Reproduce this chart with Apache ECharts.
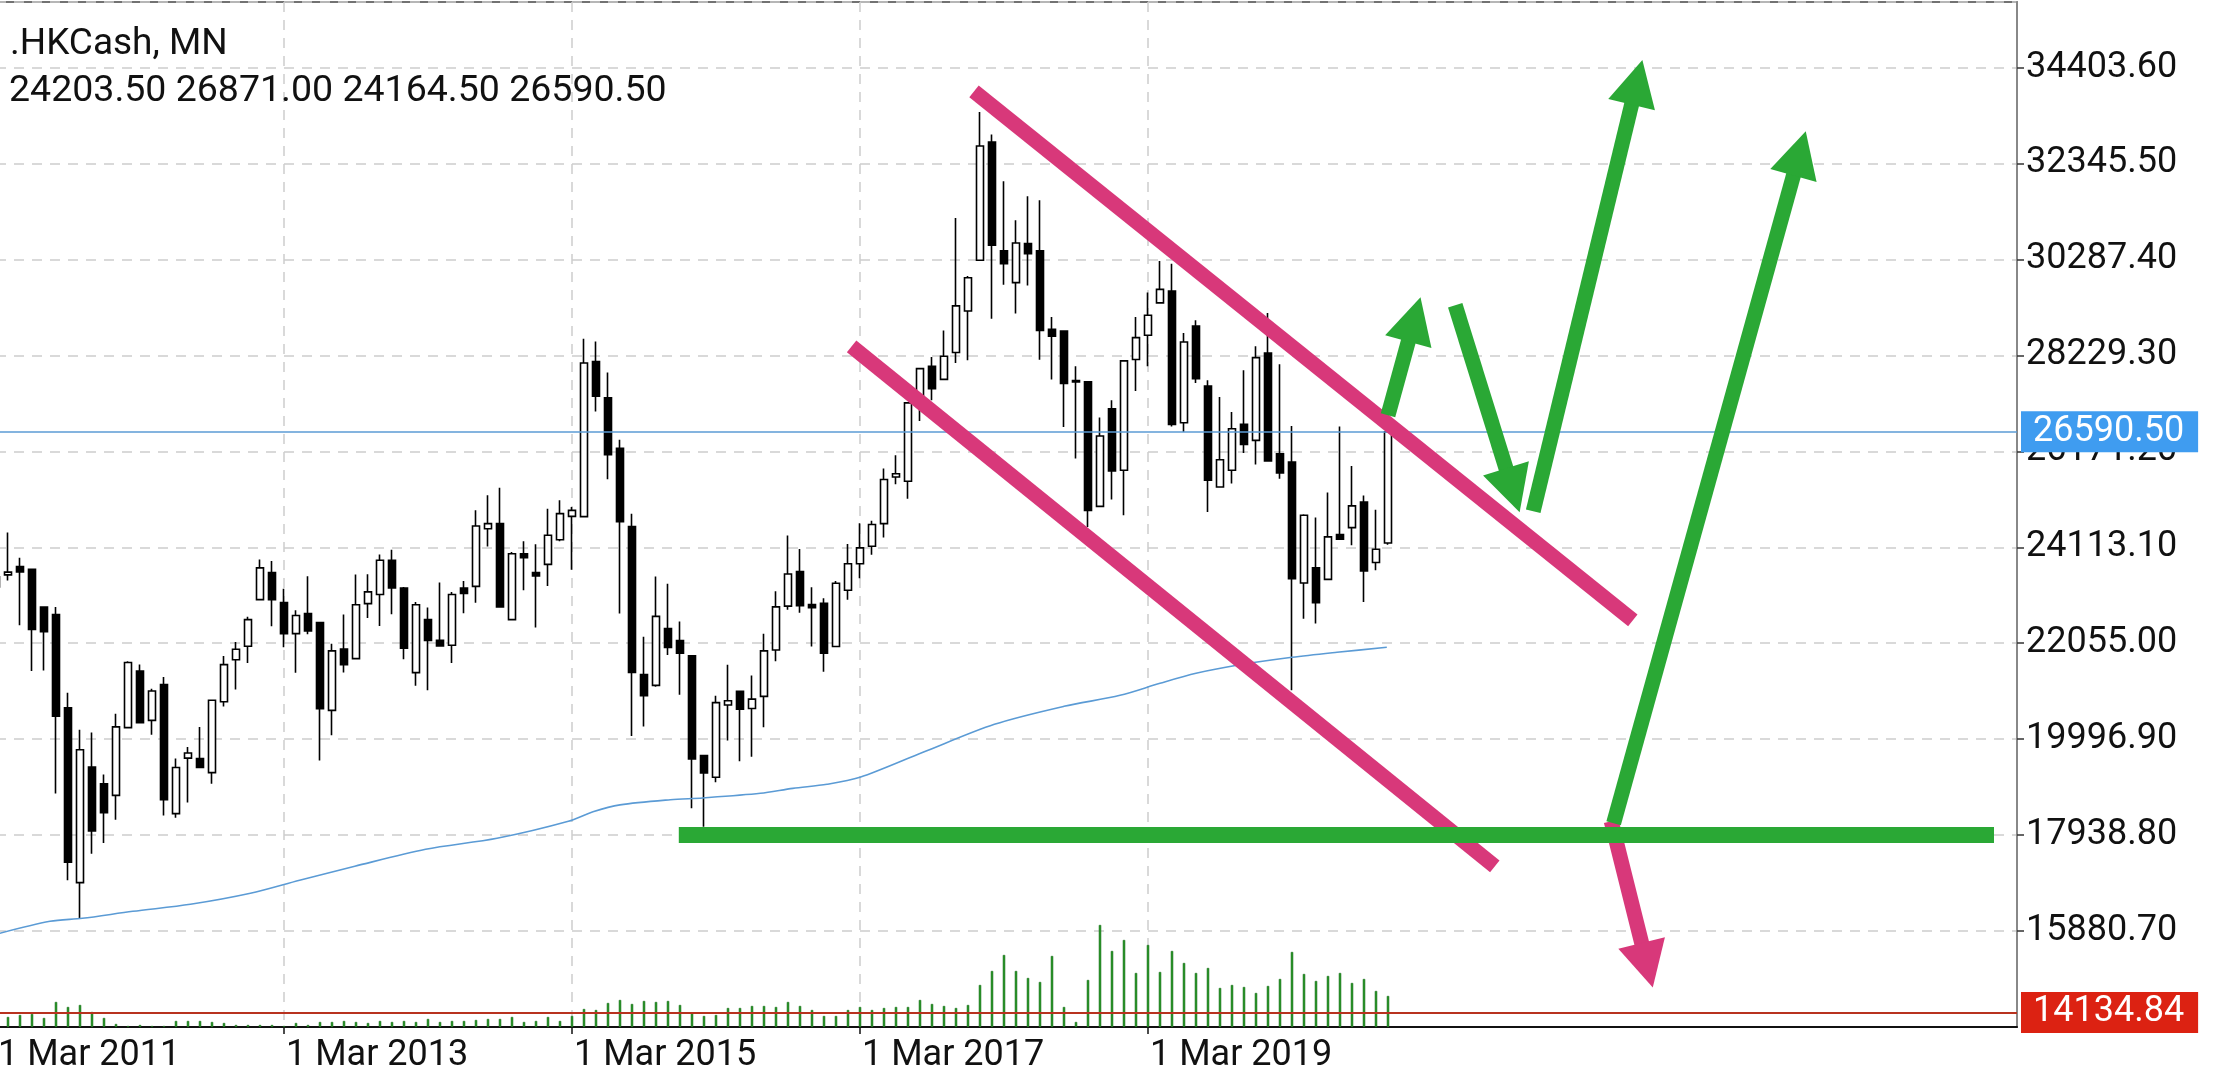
<!DOCTYPE html>
<html>
<head>
<meta charset="utf-8">
<script src="https://cdn.jsdelivr.net/npm/echarts@6/dist/echarts.min.js"></script>
<style>
html,body{margin:0;padding:0;background:#ffffff;}
#c{width:2226px;height:1080px;}
</style>
</head>
<body>
<div id="c"></div>
<script>
// ---------- DATA (monthly bars, Mar 2011 .. Nov 2020) ----------
const symbolTitle = '.HKCash, MN';
const firstMonthOffset = 2; // months since Jan 2011 of first bar (Mar 2011)
const monthNames = ['Jan','Feb','Mar','Apr','May','Jun','Jul','Aug','Sep','Oct','Nov','Dec'];

const openP = [23260,23520,23700,23640,22830,22670,20670,16920,19400,19040,18790,20245,21460,20400,21170,18400,19590,19580,19280,20800,21700,21990,22990,23570,22925,22260,22690,22500,20615,21930,21725,22905,23100,23835,23240,21425,22560,22115,22010,23240,23275,24510,24620,22560,23975,23570,23745,24275,24775,24770,28095,27320,26235,24555,21380,21150,22370,22110,21785,19645,19180,20730,21025,20655,20915,21910,22850,23590,22885,22910,21985,23190,23760,24135,24620,25620,25530,27230,27995,27715,28290,29180,30270,32805,30470,29790,30625,30470,28790,28750,27690,27660,24990,27085,25765,28140,28660,29355,29610,26785,28860,27570,25405,25765,26750,26405,28280,26120,25940,23345,23675,23425,24385,24535,25085,23785,24203.5];
const highP = [23700,24430,23890,23660,22840,22830,20990,20200,20140,19240,20540,21670,21600,21080,21330,19580,19830,20260,20840,21780,22080,22620,23850,23820,23225,22760,23490,22500,22045,22670,23530,23535,23960,24060,23260,22940,22820,23355,23155,23390,24905,25230,25390,24010,24240,24175,24940,25120,24975,28585,28525,27860,26420,24830,22195,23485,23330,22520,21790,19660,20930,21595,21030,21360,22260,23170,24365,24075,23255,23020,23390,24185,24630,24680,25800,26085,27210,27945,28195,28765,31175,29930,33450,32965,31965,31125,31640,31555,29050,28755,27995,27660,26895,27265,28110,29050,29575,30255,30195,28710,28980,27695,27335,27015,27910,28425,29140,28040,26715,24820,24750,25285,26705,25855,25225,24920,26871];
const lowP = [22700,23400,22440,21460,21470,18830,16970,16150,17540,17770,18270,20240,20340,20090,18360,18310,18640,19380,19040,20700,21060,21630,22980,22420,21970,21420,22245,19540,20080,21425,21720,22595,22425,22675,21710,21140,21045,21990,21630,22700,22925,24130,22830,22545,23190,22390,23280,24240,23630,24770,27025,25570,22690,20065,20270,21120,21800,20950,18515,18120,19070,19970,19525,19620,20250,21670,22775,22710,21985,21445,21980,22985,23450,23950,24320,25465,25155,26820,27265,27695,28066,28125,30260,29015,29745,29125,29730,28135,27710,26695,26015,24550,24990,25140,24800,27465,27995,29340,26705,26585,27635,24870,25400,25480,26135,25890,25960,25585,21045,22580,22475,23420,24280,24155,22940,23620,24164.5];
const closeP = [23480,23580,23585,22350,22300,20490,17360,19770,18030,18420,20260,21640,20350,21030,18700,19390,19700,19390,20830,21595,21925,22560,23670,22990,22260,22650,22320,20650,21890,21595,22880,23155,23835,23240,21950,22880,22115,21995,23100,23120,24570,24620,22830,23975,23890,23495,24370,24835,24905,28065,27355,26100,24660,21430,20930,22630,21965,21840,19570,19270,20780,20820,20640,20855,21890,22835,23540,22860,22815,21840,23340,23760,24100,24600,25565,25690,27210,27945,27515,28210,29290,29895,32720,30590,30195,30640,30410,28765,28640,27625,27660,24905,26500,25750,28110,28610,29090,29645,26745,28515,27730,25550,25990,26655,26320,28180,25965,25705,23440,24800,22925,24335,24285,25000,23605,24070,26590.5];
// tick volume (indicator units), one per bar
const volume = [10,10,12,13,9,25,20,22,15,9,3,1,2,1,1,6,6,6,5,4,2,2,2,2,1,4,2,5,5,6,5,4,6,5,6,5,8,5,6,6,7,8,8,10,5,6,10,6,11,18,17,24,27,23,26,25,26,22,14,11,12,19,19,21,21,20,25,21,17,11,11,17,20,17,19,20,20,27,23,21,19,22,42,56,72,56,49,45,71,20,5,47,102,76,87,54,82,55,76,64,54,59,39,42,40,34,41,48,75,53,46,51,54,44,48,36,31];
// moving average read at points: [monthsSinceJan2011, value]
const maPoints = [[2,15810],[6.5,16090],[9.2,16154],[13.4,16304],[18.2,16454],[23.2,16690],[27.3,16969],[31.9,17270],[37.8,17634],[43.75,17870],[49.7,18235],[51.75,18440],[54,18588],[58.2,18698],[60.9,18736],[65.7,18835],[68.4,18942],[71.25,19028],[74,19178],[79.25,19715],[85.2,20315],[91,20701],[95.67,20937],[99,21195],[102,21409],[105.4,21581],[110,21752],[113.75,21860],[117.9,21967]];
// axis labels
const xTickLabels = ['1 Mar 2011','1 Mar 2013','1 Mar 2015','1 Mar 2017','1 Mar 2019'];
const yTickStart = 13822.6, yTickStep = 2058.1;
const redLevel = 14134.84;
// hand-drawn annotations [monthsSinceJan2011, price]
const pinkLines = [[[83.5,33893],[138.4,22546]], [[73.3,28423],[126.9,17269]]];
const pinkArrows = [[[136.6,18235],[139.6,15146]]];
const greenLines = [[[58.9,17938.8],[168.5,17938.8]]];
const greenArrows = [[[118,26944],[120.2,29002]], [[123.6,29303],[128.4,25335]], [[130.1,24884],[138.75,34086]], [[136.8,18192],[152.3,32563]]];

// ---------- BUILD ----------
const months = openP.map((_, i) => firstMonthOffset + i);
const candles = months.map((m, i) => [m, openP[i], closeP[i], lowP[i], highP[i]]);
const volData = months.map((m, i) => [m, volume[i]]);
const labelMonth = s => { const p = s.split(' '); return (parseInt(p[2]) - 2011) * 12 + monthNames.indexOf(p[1]); };
const tickMonths = xTickLabels.map(labelMonth);
const last = openP.length - 1;
const fmt = v => v.toFixed(2);

const PINK = '#d8387a', GREEN = '#2aa835';
function lineMark(segs, arrow) {
  return segs.map(s => [
    {coord: s[0], symbol: 'none'},
    {coord: s[1], symbol: arrow ? 'triangle' : 'none', symbolSize: [48, 46]}
  ]);
}
function annot(name, segs, color, width, arrow) {
  return {
    name, type: 'line', data: [], z: 6, silent: true, animation: false,
    markLine: {
      silent: true, animation: false, symbol: ['none', arrow ? 'triangle' : 'none'],
      symbolSize: [48, 46],
      label: {show: false},
      lineStyle: {color, width, type: 'solid', cap: 'butt', opacity: 1},
      itemStyle: {color},
      emphasis: {disabled: true},
      data: lineMark(segs, arrow)
    }
  };
}

const chart = echarts.init(document.getElementById('c'), null, {renderer: 'canvas'});
const FONT = 'Roboto';
chart.setOption({
  animation: false,
  backgroundColor: '#ffffff',
  textStyle: {fontFamily: FONT},
  graphic: [
    {type: 'text', x: 10, y: 45, z: 50, style: {text: symbolTitle, fontSize: 37, fontFamily: FONT, fill: '#111', verticalAlign: 'middle', align: 'left'}},
    {type: 'text', x: 9, y: 92, z: 50, style: {text: [openP[last], highP[last], lowP[last], closeP[last]].map(fmt).join(' '), fontSize: 37.5, fontFamily: FONT, fill: '#111', verticalAlign: 'middle', align: 'left'}}
  ],
  grid: {left: -4, top: 2, width: 2021, height: 1025, show: true, borderColor: '#444', borderWidth: 1.5, backgroundColor: 'transparent', containLabel: false, outerBoundsMode: 'none'},
  xAxis: {
    type: 'value', min: firstMonthOffset, max: firstMonthOffset + 2021 / 12, interval: 8,
    axisLine: {show: true, onZero: false, lineStyle: {color: '#111', width: 2}},
    axisTick: {show: true, customValues: tickMonths, length: 7, lineStyle: {color: '#111', width: 1.5}},
    axisLabel: {
      customValues: tickMonths, align: 'left', margin: 11, fontSize: 36, fontFamily: FONT, color: '#111',
      showMaxLabel: true, showMinLabel: true, hideOverlap: false, padding: [0, 0, 0, 2],
      formatter: v => { const i = tickMonths.findIndex(t => Math.abs(t - v) < 1e-6); return i >= 0 ? xTickLabels[i] : ''; }
    },
    splitLine: {show: true, lineStyle: {color: '#cdcdcd', width: 1.5, type: [10, 8]}}
  },
  yAxis: [
    {
      type: 'value', position: 'right', min: yTickStart, max: yTickStart + 1025 * 21.45, interval: yTickStep, scale: true,
      axisLine: {show: true, lineStyle: {color: '#888', width: 2}},
      axisTick: {show: true, length: 7, lineStyle: {color: '#333', width: 1.5}},
      axisLabel: {margin: 9, fontSize: 36, fontFamily: FONT, color: '#111', formatter: v => fmt(v), showMaxLabel: false, showMinLabel: false, hideOverlap: false, padding: [4, 0, 0, 0]},
      splitLine: {show: true, lineStyle: {color: '#cdcdcd', width: 1.5, type: [10, 8]}}
    },
    {type: 'value', min: 0, max: 1025, show: false, splitLine: {show: false}}
  ],
  series: [
    {
      name: 'volume', type: 'bar', xAxisIndex: 0, yAxisIndex: 1, data: volData, barWidth: 2.5, z: 1,
      itemStyle: {color: '#2c962c', borderColor: '#1d6f1d', borderWidth: 0.5}, silent: true
    },
    {
      name: 'price', type: 'candlestick', xAxisIndex: 0, yAxisIndex: 0, data: candles,
      encode: {x: 0, y: [1, 2, 3, 4]}, barWidth: 7, z: 3,
      itemStyle: {color: '#ffffff', color0: '#000000', borderColor: '#000000', borderColor0: '#000000', borderWidth: 1.6},
      markLine: {
        silent: true, symbol: ['none', 'none'], animation: false,
        data: [
          {yAxis: closeP[last], lineStyle: {color: '#5b9bd5', width: 1.5, type: 'solid'},
            label: {show: true, position: 'end', distance: 4, formatter: () => fmt(closeP[last]), backgroundColor: '#3f9cf0', color: '#ffffff', fontSize: 36, fontFamily: FONT, padding: [4, 14, 0, 12], lineHeight: 37}},
          {yAxis: redLevel, lineStyle: {color: '#b8321f', width: 2, type: 'solid'},
            label: {show: true, position: 'end', distance: 4, formatter: () => fmt(redLevel), backgroundColor: '#dc2212', color: '#ffffff', fontSize: 36, fontFamily: FONT, padding: [4, 14, 0, 12], lineHeight: 37}}
        ]
      }
    },
    {
      name: 'MA', type: 'line', xAxisIndex: 0, yAxisIndex: 0, data: maPoints, showSymbol: false, symbol: 'none', smooth: 0.3, z: 4,
      lineStyle: {color: '#5b9bd5', width: 1.6}, silent: true
    },
    annot('pinkLines', pinkLines, PINK, 15, false),
    annot('pinkArrows', pinkArrows, PINK, 15, true),
    annot('greenLines', greenLines, GREEN, 16, false),
    annot('greenArrows', greenArrows, GREEN, 15, true)
  ]
});
</script>
</body>
</html>
